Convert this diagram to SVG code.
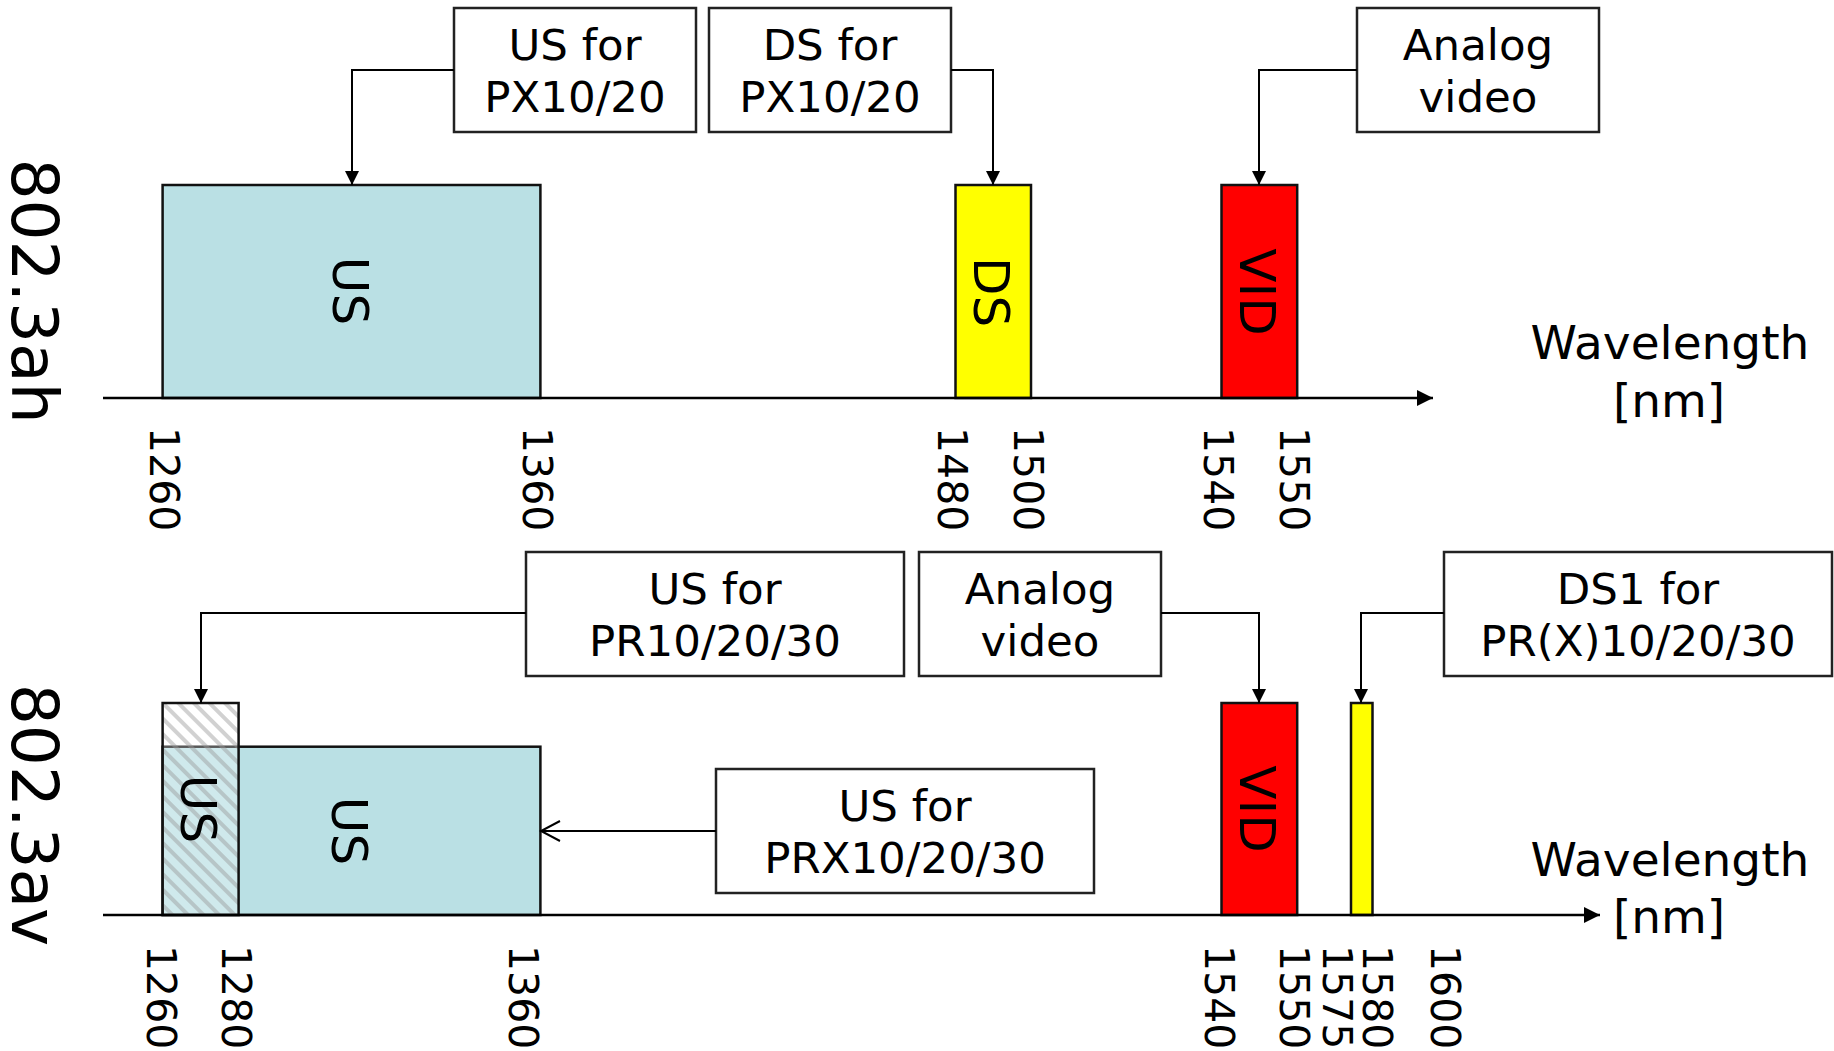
<svg xmlns="http://www.w3.org/2000/svg" width="1834" height="1051" viewBox="0 0 1834 1051">
<style>
text{font-family:"DejaVu Sans","Liberation Sans",sans-serif;fill:#000}
.bx{fill:#fff;stroke:#222;stroke-width:2.5}
.bt{font-size:43.5px;text-anchor:middle}
.band{stroke:#111;stroke-width:2.5}
.rl{font-size:50px;text-anchor:middle}
.tk{font-size:41px}
.ax{fill:none;stroke:#000;stroke-width:2.5}
.cn{fill:none;stroke:#000;stroke-width:2}
.wl{font-size:47px;text-anchor:middle}
.std{font-size:64.5px;text-anchor:middle}
</style>
<defs>
<marker id="arr" markerUnits="userSpaceOnUse" markerWidth="16" markerHeight="16" refX="14" refY="7" orient="auto">
<path d="M0,0 L14,7 L0,14 Z" fill="#000"/>
</marker>
<marker id="axarr" markerUnits="userSpaceOnUse" markerWidth="18" markerHeight="18" refX="16" refY="8" orient="auto">
<path d="M0,0 L16,8 L0,16 Z" fill="#000"/>
</marker>
<marker id="open" markerUnits="userSpaceOnUse" markerWidth="24" markerHeight="24" refX="20" refY="11" orient="auto">
<path d="M1,1 L20,11 L1,21" fill="none" stroke="#000" stroke-width="2"/>
</marker>
<pattern id="hatch" patternUnits="userSpaceOnUse" width="11" height="11" patternTransform="rotate(-45)">
<rect width="11" height="11" fill="#fff" fill-opacity="0.3"/>
<line x1="3" y1="0" x2="3" y2="11" stroke="#9a9a9a" stroke-opacity="0.45" stroke-width="4"/>
</pattern>
</defs>

<!-- Top: 802.3ah -->
<g id="label-802-3ah"><text class="std" transform="translate(36,291) rotate(90)" dy="0.365em">802.3ah</text></g>

<g id="band-us-top">
<rect class="band" x="162.6" y="185" width="377.8" height="213" fill="#BAE0E4"/>
<text class="rl" transform="translate(351,291) rotate(90)" dy="0.365em">US</text>
</g>
<g id="band-ds-top">
<rect class="band" x="955.5" y="185" width="75.5" height="213" fill="#FFFF00"/>
<text class="rl" transform="translate(992,292) rotate(90)" dy="0.365em">DS</text>
</g>
<g id="band-vid-top">
<rect class="band" x="1221.5" y="185" width="75.7" height="213" fill="#FF0000"/>
<text class="rl" transform="translate(1258,292) rotate(90)" dy="0.365em">VID</text>
</g>

<g id="box-us-px">
<rect class="bx" x="454" y="8" width="242" height="124"/>
<text class="bt" x="575" y="60">US for</text>
<text class="bt" x="575" y="112">PX10/20</text>
</g>
<g id="box-ds-px">
<rect class="bx" x="709" y="8" width="242" height="124"/>
<text class="bt" x="830" y="60">DS for</text>
<text class="bt" x="830" y="112">PX10/20</text>
</g>
<g id="box-analog-top">
<rect class="bx" x="1357" y="8" width="242" height="124"/>
<text class="bt" x="1478" y="60">Analog</text>
<text class="bt" x="1478" y="112">video</text>
</g>

<g id="wl-top">
<text class="wl" x="1670" y="359">Wavelength</text>
<text class="wl" x="1669" y="417">[nm]</text>
</g>

<g id="ticks-top">
<text class="tk" transform="translate(165,427) rotate(90)" dy="0.365em">1260</text>
<text class="tk" transform="translate(538,427) rotate(90)" dy="0.365em">1360</text>
<text class="tk" transform="translate(953,427) rotate(90)" dy="0.365em">1480</text>
<text class="tk" transform="translate(1029,427) rotate(90)" dy="0.365em">1500</text>
<text class="tk" transform="translate(1219,427) rotate(90)" dy="0.365em">1540</text>
<text class="tk" transform="translate(1294.5,427) rotate(90)" dy="0.365em">1550</text>
</g>

<!-- Bottom: 802.3av -->
<g id="label-802-3av"><text class="std" transform="translate(36,815) rotate(90)" dy="0.365em">802.3av</text></g>

<g id="band-us-bottom">
<rect class="band" x="162.6" y="746.7" width="377.8" height="168.3" fill="#BAE0E4"/>
<text class="rl" transform="translate(350,831) rotate(90)" dy="0.365em">US</text>
</g>
<g id="band-us-hatched">
<rect class="band" x="162.6" y="703" width="76" height="212" fill="url(#hatch)"/>
<text class="rl" transform="translate(199,809) rotate(90)" dy="0.365em">US</text>
</g>
<g id="band-vid-bottom">
<rect class="band" x="1221.5" y="703" width="75.7" height="212" fill="#FF0000"/>
<text class="rl" transform="translate(1258,809) rotate(90)" dy="0.365em">VID</text>
</g>
<g id="band-ds1">
<rect class="band" x="1351" y="703" width="21.5" height="212" fill="#FFFF00"/>
</g>

<g id="box-us-pr">
<rect class="bx" x="526" y="552" width="378" height="124"/>
<text class="bt" x="715" y="604">US for</text>
<text class="bt" x="715" y="656">PR10/20/30</text>
</g>
<g id="box-analog-bottom">
<rect class="bx" x="919" y="552" width="242" height="124"/>
<text class="bt" x="1040" y="604">Analog</text>
<text class="bt" x="1040" y="656">video</text>
</g>
<g id="box-ds1">
<rect class="bx" x="1444" y="552" width="388" height="124"/>
<text class="bt" x="1638" y="604">DS1 for</text>
<text class="bt" x="1638" y="656">PR(X)10/20/30</text>
</g>
<g id="box-us-prx">
<rect class="bx" x="716" y="769" width="378" height="124"/>
<text class="bt" x="905" y="821">US for</text>
<text class="bt" x="905" y="873">PRX10/20/30</text>
</g>

<g id="wl-bottom">
<text class="wl" x="1670" y="876">Wavelength</text>
<text class="wl" x="1669" y="933">[nm]</text>
</g>

<g id="ticks-bottom">
<text class="tk" transform="translate(162,945) rotate(90)" dy="0.365em">1260</text>
<text class="tk" transform="translate(237,945) rotate(90)" dy="0.365em">1280</text>
<text class="tk" transform="translate(524,945) rotate(90)" dy="0.365em">1360</text>
<text class="tk" transform="translate(1220,945) rotate(90)" dy="0.365em">1540</text>
<text class="tk" transform="translate(1295,945) rotate(90)" dy="0.365em">1550</text>
<text class="tk" transform="translate(1338,945) rotate(90)" dy="0.365em">1575</text>
<text class="tk" transform="translate(1377.5,945) rotate(90)" dy="0.365em">1580</text>
<text class="tk" transform="translate(1446,945) rotate(90)" dy="0.365em">1600</text>
</g>

<g id="connectors">
<path class="ax" d="M103,398 H1433" marker-end="url(#axarr)"/>
<path class="ax" d="M103,915 H1600" marker-end="url(#axarr)"/>
<path class="cn" d="M454,70 H352 V185" marker-end="url(#arr)"/>
<path class="cn" d="M951,70 H993 V185" marker-end="url(#arr)"/>
<path class="cn" d="M1357,70 H1259 V185" marker-end="url(#arr)"/>
<path class="cn" d="M526,613 H201 V703" marker-end="url(#arr)"/>
<path class="cn" d="M1161,613 H1259 V703" marker-end="url(#arr)"/>
<path class="cn" d="M1444,613 H1361 V703" marker-end="url(#arr)"/>
<path class="cn" d="M716,831 H541" marker-end="url(#open)"/>
</g>
</svg>
